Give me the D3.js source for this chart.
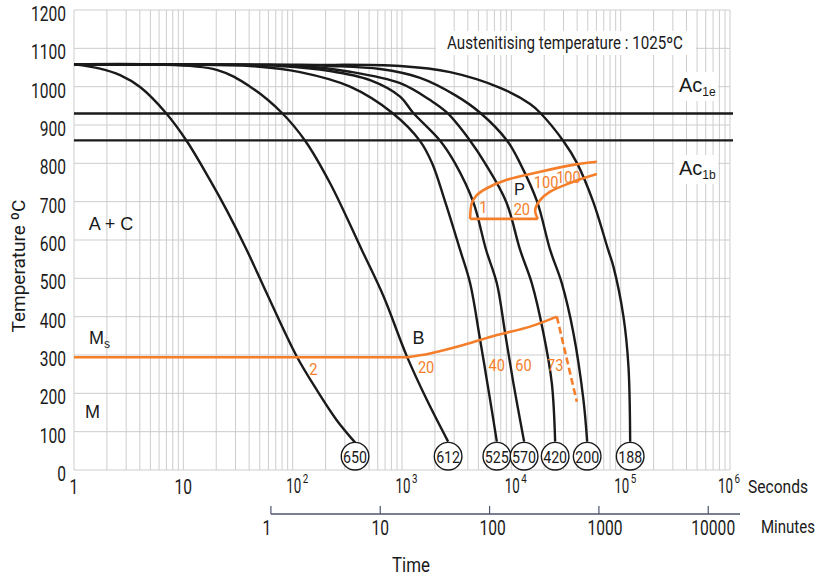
<!DOCTYPE html>
<html><head><meta charset="utf-8">
<script src="https://cdn.jsdelivr.net/npm/d3@7"></script>
<style>
body{margin:0;background:#fff}
svg{display:block}
.n{font-family:Roboto,"DejaVu Sans",sans-serif}
.r{font-family:"Liberation Sans",Arial,sans-serif}
</style></head><body><svg id="c" width="819" height="575"></svg>
<script>
// ---------- data ----------
const yTicks = [0,100,200,300,400,500,600,700,800,900,1000,1100,1200];
const secondExps = [0,1,2,3,4,5,6];
const minuteTicks = [1,10,100,1000,10000];
const acTemps = [930, 860];
const hardness = [650, 612, 525, 570, 420, 200, 188];

// cooling curves: [time in seconds, temperature in °C]
const curve650 = [[1,1058],[1.73,1047],[2.64,1030],[4.02,999],[6.9,932],[10.7,859],[17.5,757],[24.9,678],[38,574],[57.9,461],[109,296],[166,209],[253,130],[372,72]];
const curve612 = [[1,1058],[4.96,1058],[20.2,1044],[40.8,1000],[79.5,932],[130,859],[220,748],[429,574],[676,454],[1106,297],[1687,183],[2641,74]];
const curve525 = [[1,1058],[14.2,1057],[40.8,1054],[116.8,1038],[335,1000],[812,932],[1464,858],[1886,800],[2480,700],[3401,574],[4199,487],[5183,339],[6398,183],[7369,74]];
const curve570 = [[1,1058],[21.7,1057],[76.7,1054],[219.9,1041],[510.7,1017],[960.7,974],[1263,932],[2232,859],[3060,800],[4473,700],[5881,574],[7369,487],[8776,357],[10452,226],[13090,74]];
const curve420 = [[1,1058],[33,1057],[116.8,1054],[335,1039],[961,1009],[1807,965],[2585,932],[4199,859],[5758,800],[8963,700],[12035,574],[15402,487],[19668,357],[23470,226],[25160,74]];
const curve200 = [[1,1058],[62.1,1057],[219.9,1054],[630.5,1046],[1464,1023],[3060,978],[5183,932],[9155,859],[12035,800],[17219,700],[22646,574],[28973,487],[36999,357],[45664,183],[49380,74]];
const curve188 = [[1,1058],[116.8,1057],[961,1054],[2755,1038],[7899,997],[14859,955],[18344,932],[29778,859],[39994,800],[56018,700],[76870,574],[85960,530],[106070,400],[117830,270],[122150,74]];
const curves = [curve650, curve612, curve525, curve570, curve420, curve200, curve188];

// transformation lines (orange)
const msLine = [[1,294],[1106,294]];
const bainiteStart = [[1106,294],[1807,304],[3646,326],[7369,352],[14859,374],[26087,400]];
const bainiteEnd = [[26087,400],[39740,178]];
const pearliteStart = [[60570,804],[36990,796],[18344,778],[9098,757],[5968,735],[4836,717],[4351,696],[4199,655]];
const pearliteBottom = [[4199,655],[17477,655]];
const pearliteEnd = [[17477,655],[16512,678],[18344,704],[22646,726],[36999,752],[60570,772]];

const orangeLabels = [
  ["2",154.5,263],["20",1662,268],["40",7369,274],["60",12900,274],["73",25160,274],
  ["1",5556,687],["20",12478,681],["100",20820,752],["100",33300,765]
];

// ---------- drawing ----------
const svg = d3.select("#c");
const x = d3.scaleLog().domain([1,1e6]).range([74,730]);
const y = d3.scaleLinear().domain([0,1200]).range([470,10]);
const GRID = "#cdcdcd", ORANGE = "#f47e2a", INK = "#1a1a1a";

// grid
const vTicks = [];
for (let e=0;e<6;e++) for (let k=1;k<10;k++) vTicks.push(k*Math.pow(10,e));
vTicks.push(1e6);
svg.append("g").selectAll("line").data(vTicks).join("line")
  .attr("x1",d=>x(d)).attr("x2",d=>x(d)).attr("y1",y(1200)).attr("y2",y(0))
  .attr("stroke",GRID).attr("stroke-width",1);
svg.append("g").selectAll("line").data(yTicks).join("line")
  .attr("x1",x(1)).attr("x2",x(1e6)).attr("y1",d=>y(d)).attr("y2",d=>y(d))
  .attr("stroke",GRID).attr("stroke-width",1);

// label boxes (white) over the grid
const boxes = svg.append("g");
boxes.append("rect").attr("x",436).attr("y",31).attr("width",260).attr("height",24).attr("fill","#fff");
boxes.append("rect").attr("x",674).attr("y",72).attr("width",44).attr("height",29).attr("fill","#fff");
boxes.append("rect").attr("x",674).attr("y",155).attr("width",44).attr("height",29).attr("fill","#fff");

// y tick labels
svg.append("g").selectAll("text").data(yTicks).join("text").attr("class","n")
  .attr("x",66).attr("y",d=>y(d)+4.5).attr("text-anchor","end").attr("dominant-baseline","central")
  .attr("font-size",19.5).attr("fill",INK).text(d=>d);

// x tick labels (seconds)
const xl = svg.append("g").attr("fill",INK);
secondExps.forEach(e=>{
  const tx = x(Math.pow(10,e));
  if (e<2) {
    xl.append("text").attr("class","n").attr("x",tx).attr("y",487)
      .attr("text-anchor","middle").attr("dominant-baseline","central").attr("font-size",19.5).text(Math.pow(10,e));
  } else {
    const c = e===6 ? tx-4.5 : tx+1;   // centre of the "10" base
    xl.append("text").attr("class","n").attr("data-w",15).attr("x",c).attr("y",487)
      .attr("text-anchor","middle").attr("dominant-baseline","central").attr("font-size",19.5).text("10");
    xl.append("text").attr("class","n").attr("data-w",5.5).attr("x",c+9).attr("y",479)
      .attr("dominant-baseline","central").attr("font-size",12.5).text(e);
  }
});
xl.append("text").attr("class","n").attr("data-w",60).attr("x",748).attr("y",487).attr("dominant-baseline","central").attr("font-size",18).text("Seconds");

// minutes axis
const ma = svg.append("g");
const mx = m => x(m*60) + 2.5;
ma.append("line").attr("x1",mx(1)).attr("x2",740).attr("y1",514).attr("y2",514).attr("stroke","#4d566e").attr("stroke-width",1.6);
ma.selectAll("line.t").data(minuteTicks).join("line").attr("class","t")
  .attr("x1",d=>mx(d)).attr("x2",d=>mx(d)).attr("y1",514).attr("y2",506).attr("stroke","#4d566e").attr("stroke-width",1.2);
ma.selectAll("text").data(minuteTicks).join("text").attr("class","n")
  .attr("x",(d,i)=>mx(d)+[-4,0,3,6,5][i]).attr("y",528).attr("text-anchor","middle").attr("dominant-baseline","central")
  .attr("font-size",19.5).attr("fill",INK).text(d=>d);
ma.append("text").attr("class","n").attr("data-w",54).attr("x",761).attr("y",527).attr("dominant-baseline","central")
  .attr("font-size",18).attr("fill",INK).text("Minutes");
svg.append("text").attr("class","n").attr("data-w",38).attr("x",411).attr("y",565).attr("text-anchor","middle")
  .attr("dominant-baseline","central").attr("font-size",19.5).attr("fill",INK).text("Time");
svg.append("text").attr("class","n").attr("data-w",133).attr("transform","translate(18,266) rotate(-90)")
  .attr("text-anchor","middle").attr("dominant-baseline","central").attr("font-size",19).attr("fill",INK)
  .text("Temperature ºC");

// Ac lines
svg.append("g").selectAll("line").data(acTemps).join("line")
  .attr("x1",x(1)).attr("x2",733).attr("y1",d=>y(d)).attr("y2",d=>y(d))
  .attr("stroke",INK).attr("stroke-width",2.4);

// cooling curves
const line = d3.line().x(d=>x(d[0])).y(d=>y(d[1])).curve(d3.curveCatmullRom.alpha(0.5));
const straight = d3.line().x(d=>x(d[0])).y(d=>y(d[1]));
svg.append("g").selectAll("path").data(curves).join("path")
  .attr("d",line).attr("fill","none").attr("stroke",INK).attr("stroke-width",2.4);

// orange transformation lines
const og = svg.append("g").attr("fill","none").attr("stroke",ORANGE).attr("stroke-width",2.6);
og.append("path").attr("d",straight(msLine));
og.append("path").attr("d",line(bainiteStart));
og.append("path").attr("d",straight(bainiteEnd)).attr("stroke-dasharray","7,3.5");
og.append("path").attr("d",line(pearliteStart));
og.append("path").attr("d",straight(pearliteBottom));
og.append("path").attr("d",line(pearliteEnd));

svg.append("g").selectAll("text").data(orangeLabels).join("text").attr("class","n").attr("data-f",0.86)
  .attr("x",d=>x(d[1])).attr("y",d=>y(d[2])).attr("text-anchor","middle").attr("dominant-baseline","central")
  .attr("font-size",17).attr("fill",ORANGE).text(d=>d[0]);

// hardness circles
const cg = svg.append("g");
curves.forEach((c,i)=>{
  const end = c[c.length-1];
  const cx = x(end[0]), cy = y(36);
  cg.append("circle").attr("cx",cx).attr("cy",cy).attr("r",13.8).attr("fill","#fff").attr("stroke",INK).attr("stroke-width",1.4);
  cg.append("text").attr("class","n").attr("data-w",24).attr("x",cx).attr("y",cy+1).attr("text-anchor","middle").attr("dominant-baseline","central")
    .attr("font-size",17).attr("fill",INK).text(hardness[i]);
});

// region labels
const rl = svg.append("g").attr("class","r").attr("fill",INK).attr("font-size",18);
rl.append("text").attr("x",x(2.18)).attr("y",y(642)).attr("text-anchor","middle").attr("dominant-baseline","central").text("A + C");
rl.append("text").attr("x",x(1413)).attr("y",y(344)).attr("text-anchor","middle").attr("dominant-baseline","central").text("B");
rl.append("text").attr("x",x(11860)).attr("y",y(734)).attr("text-anchor","middle").attr("dominant-baseline","central").attr("font-size",16.5).text("P");
rl.append("text").attr("x",x(1.48)).attr("y",y(152)).attr("text-anchor","middle").attr("dominant-baseline","central").text("M");
const ms = rl.append("text").attr("x",x(1.37)).attr("y",y(344)).attr("dominant-baseline","central");
ms.append("tspan").text("M"); ms.append("tspan").attr("font-size",12).attr("dy",6).text("s");

const ac = svg.append("g").attr("class","r").attr("fill",INK);
[["1e",85],["1b",168]].forEach(([s,yy])=>{
  const t = ac.append("text").attr("x",679).attr("y",yy).attr("dominant-baseline","central").attr("font-size",20);
  t.append("tspan").text("Ac"); t.append("tspan").attr("font-size",12).attr("dy",7).text(s);
});
svg.append("text").attr("class","n").attr("data-w",236).attr("x",565).attr("y",43).attr("text-anchor","middle").attr("dominant-baseline","central")
  .attr("font-size",17.5).attr("fill",INK).text("Austenitising temperature : 1025ºC");

// narrow (condensed) rendering of the DIN-like labels: horizontal scale about the anchor point
svg.selectAll("text.n").each(function(){
  const w = this.getAttribute("data-w");
  const L = this.getComputedTextLength();
  const f = w ? (+w)/L : +(this.getAttribute("data-f") || 0.8);
  const ax = +(this.getAttribute("x") || 0);
  const tr = this.getAttribute("transform") || "";
  this.setAttribute("transform", `${tr} translate(${ax},0) scale(${f},1) translate(${-ax},0)`);
});
</script></body></html>
